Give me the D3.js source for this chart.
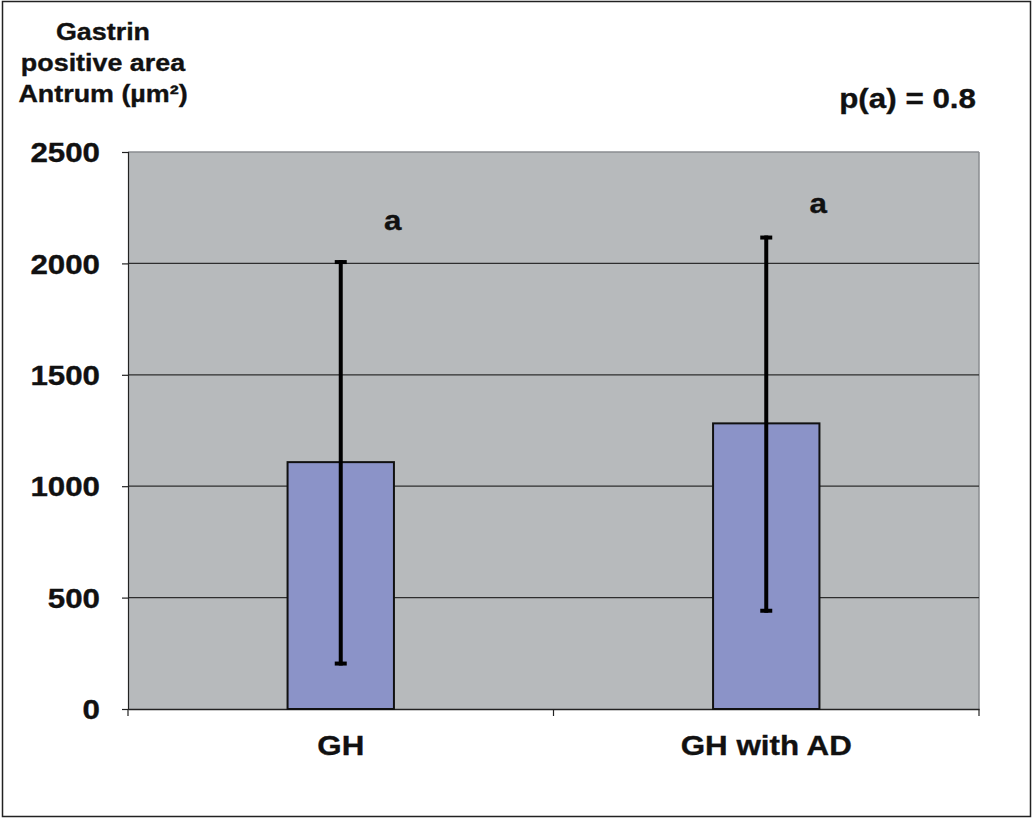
<!DOCTYPE html>
<html>
<head>
<meta charset="utf-8">
<script src="https://cdn.jsdelivr.net/npm/d3@7"></script>
<style>
  body { margin: 0; background: #fff; }
  svg { display: block; font-family: Arial, "Liberation Sans", sans-serif; font-weight: bold; }
  svg text { stroke: #111; stroke-width: 0.35px; }
</style>
</head>
<body>
<div id="chart"></div>
<script>
// chart data
const categories = ['GH', 'GH with AD'];
const means = [1108, 1282];
const errUpper = [2015, 2125];
const errLower = [195, 432];
const sigLetters = ['a', 'a'];
const sigLevels = [2150, 2226];
const yTicks = [0, 500, 1000, 1500, 2000, 2500];

const width = 1033, height = 819;
const margin = {top: 152, right: 54, bottom: 110, left: 128};
const innerW = width - margin.left - margin.right,
    innerH = height - margin.top - margin.bottom;
const fontFamily = 'Arial, "Liberation Sans", sans-serif';
const sx = 1.16; // the original text is a little wider than Arial

const svg = d3.select('#chart').append('svg')
    .attr('width', width)
    .attr('height', height);

// outer frame
svg.append('rect')
    .attr('x', 2.5).attr('y', 1.5)
    .attr('width', width - 5).attr('height', height - 4)
    .attr('fill', 'none')
    .attr('stroke', '#222')
    .attr('stroke-width', 1.5);

const g = svg.append('g')
    .attr('transform', 'translate(' + margin.left + ',' + margin.top + ')');

const x = d3.scaleBand().domain(categories).range([0, innerW]).paddingInner(0).paddingOuter(0);
const y = d3.scaleLinear().domain([0, 2500]).range([innerH, 0]);

// plot background
g.append('rect')
    .attr('width', innerW).attr('height', innerH)
    .attr('fill', '#b7babc');
g.append('line')
    .attr('x1', 0).attr('x2', innerW)
    .attr('y1', 0).attr('y2', 0)
    .attr('stroke', '#8a8d90').attr('stroke-width', 1.5);
g.append('line')
    .attr('x1', innerW).attr('x2', innerW)
    .attr('y1', 0).attr('y2', innerH)
    .attr('stroke', '#8a8d90').attr('stroke-width', 1.5);

// gridlines
g.selectAll('.grid')
    .data(yTicks.filter(d => d > 0 && d < 2500))
    .enter().append('line')
    .attr('class', 'grid')
    .attr('x1', 0).attr('x2', innerW)
    .attr('y1', d => y(d)).attr('y2', d => y(d))
    .attr('stroke', '#2e2e2e')
    .attr('stroke-width', 1.2);

// y axis
const yAxisGroup = g.append('g')
    .call(d3.axisLeft(y).tickValues(yTicks).tickFormat(d3.format('d')).tickSize(6).tickPadding(22));
yAxisGroup.select('.domain').attr('stroke', '#222').attr('stroke-width', 1.2);
yAxisGroup.selectAll('.tick line').attr('stroke', '#222').attr('stroke-width', 1.2);
yAxisGroup.selectAll('text')
    .attr('fill', '#111')
    .attr('dy', '0.36em')
    .attr('x', -28 / sx)
    .attr('transform', 'scale(' + sx + ',1)')
    .style('font-size', '27px')
    .style('font-weight', 'bold')
    .style('font-family', fontFamily);

// x axis
const xAxisGroup = g.append('g')
    .attr('transform', 'translate(0,' + innerH + ')')
    .call(d3.axisBottom(x).tickSize(0).tickPadding(27));
xAxisGroup.select('.domain').attr('stroke', '#222').attr('stroke-width', 1.5);
xAxisGroup.selectAll('text')
    .attr('fill', '#111')
    .attr('transform', 'scale(' + sx + ',1)')
    .style('font-size', '27px')
    .style('font-weight', 'bold')
    .style('font-family', fontFamily);
// category boundary ticks
g.selectAll('.xtick')
    .data([0, 1, 2])
    .enter().append('line')
    .attr('class', 'xtick')
    .attr('x1', d => d * x.bandwidth()).attr('x2', d => d * x.bandwidth())
    .attr('y1', innerH).attr('y2', innerH + 7)
    .attr('stroke', '#222').attr('stroke-width', 1.2);

// bars
const barW = x.bandwidth() * 0.25;
const cx = d => x(d) + x.bandwidth() / 2;
g.selectAll('.bar')
    .data(categories)
    .enter().append('rect')
    .attr('class', 'bar')
    .attr('x', d => cx(d) - barW / 2)
    .attr('y', (d, i) => y(means[i]))
    .attr('width', barW)
    .attr('height', (d, i) => innerH - y(means[i]))
    .attr('fill', '#8b93c8')
    .attr('stroke', '#111')
    .attr('stroke-width', 2);

// error bars
const errG = g.selectAll('.err')
    .data(categories)
    .enter().append('g')
    .attr('class', 'err');
errG.append('line')
    .attr('x1', d => cx(d)).attr('x2', d => cx(d))
    .attr('y1', (d, i) => y(errUpper[i])).attr('y2', (d, i) => y(errLower[i]))
    .attr('stroke', '#000').attr('stroke-width', 4);
errG.append('line')
    .attr('x1', d => cx(d) - 6).attr('x2', d => cx(d) + 6)
    .attr('y1', (d, i) => y(errUpper[i]) + 2).attr('y2', (d, i) => y(errUpper[i]) + 2)
    .attr('stroke', '#000').attr('stroke-width', 4);
errG.append('line')
    .attr('x1', d => cx(d) - 6).attr('x2', d => cx(d) + 6)
    .attr('y1', (d, i) => y(errLower[i]) - 2).attr('y2', (d, i) => y(errLower[i]) - 2)
    .attr('stroke', '#000').attr('stroke-width', 4);

// significance letters
g.selectAll('.sig')
    .data(categories)
    .enter().append('text')
    .attr('class', 'sig')
    .attr('transform', (d, i) => 'translate(' + (cx(d) + 52) + ',' + y(sigLevels[i]) + ') scale(' + sx + ',1)')
    .attr('text-anchor', 'middle')
    .attr('fill', '#111')
    .style('font-size', '27px')
    .text((d, i) => sigLetters[i]);

// y title
const titleLines = ['Gastrin', 'positive area', 'Antrum (µm²)'];
svg.append('text')
    .attr('transform', 'translate(103,0) scale(1.12,1)')
    .attr('text-anchor', 'middle')
    .attr('fill', '#111')
    .style('font-size', '24px')
    .selectAll('tspan')
    .data(titleLines)
    .enter().append('tspan')
    .attr('x', 0)
    .attr('y', (d, i) => 40 + i * 31)
    .text(d => d);

// p value
svg.append('text')
    .attr('transform', 'translate(976,108) scale(1.12,1)')
    .attr('text-anchor', 'end')
    .attr('fill', '#111')
    .style('font-size', '28px')
    .text('p(a) = 0.8');
</script>
</body>
</html>
